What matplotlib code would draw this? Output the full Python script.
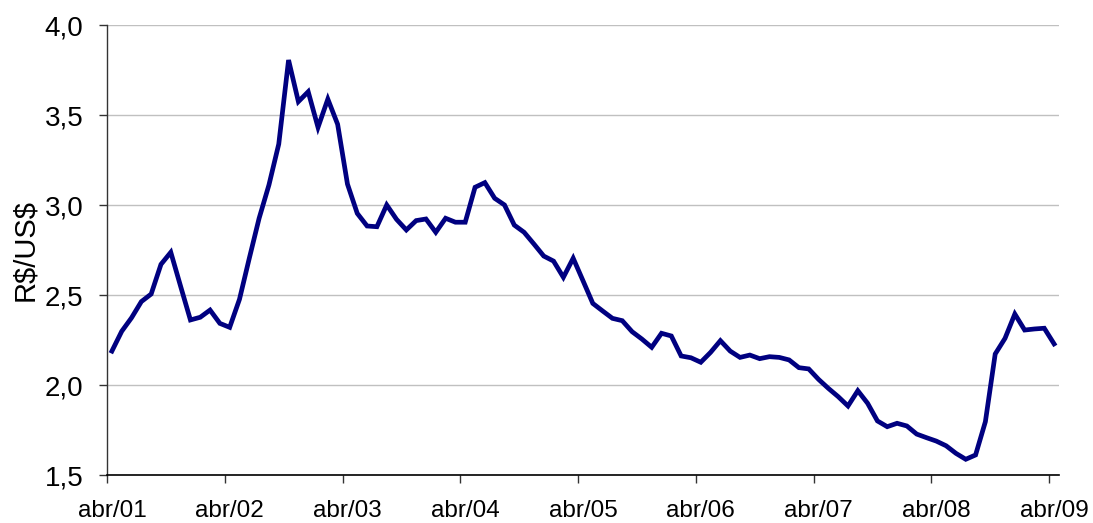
import matplotlib.pyplot as plt
from matplotlib.ticker import FuncFormatter

plt.rcParams['font.family'] = ['Liberation Sans', 'DejaVu Sans']

# monthly exchange rate, abr/01 .. abr/09
rate = [
    2.19, 2.30, 2.375, 2.465, 2.507, 2.672, 2.739, 2.55, 2.363, 2.378, 2.418, 2.344,
    2.322, 2.478, 2.706, 2.928, 3.113, 3.34, 3.807, 3.576, 3.631, 3.433, 3.59, 3.45,
    3.118, 2.955, 2.885, 2.881, 3.002, 2.922, 2.863, 2.915, 2.924, 2.85, 2.928, 2.906,
    2.906, 3.10, 3.126, 3.039, 3.002, 2.89, 2.85, 2.785, 2.718, 2.69, 2.60, 2.706,
    2.581, 2.455, 2.413, 2.372, 2.359, 2.298, 2.257, 2.211, 2.289, 2.274, 2.163, 2.153,
    2.128, 2.183, 2.248, 2.19, 2.155, 2.168, 2.148, 2.159, 2.155, 2.141, 2.098, 2.091,
    2.033, 1.983, 1.937, 1.885, 1.97, 1.90, 1.802, 1.77, 1.789, 1.774, 1.729, 1.709,
    1.69, 1.664, 1.622, 1.589, 1.613, 1.798, 2.174, 2.261, 2.396, 2.307, 2.313, 2.317,
    2.23,
]
tick_labels = ["abr/01", "abr/02", "abr/03", "abr/04", "abr/05",
               "abr/06", "abr/07", "abr/08", "abr/09"]

fig = plt.figure(figsize=(10.93, 5.23), dpi=100)
ax = fig.add_axes([107 / 1093, 1 - 475.3 / 523, (1059 - 107) / 1093, 450 / 523])

x = list(range(len(rate)))
ax.plot(x, rate, color='#000080', lw=3.4, solid_joinstyle='miter', zorder=3)

# axes styling (Excel-like category axis)
ax.set_xlim(-0.5, len(rate) - 0.5)
ax.set_ylim(1.5, 4.0)
ax.set_yticks([1.5, 2.0, 2.5, 3.0, 3.5, 4.0])
ax.yaxis.set_major_formatter(FuncFormatter(lambda v, p: f"{v:.1f}".replace('.', ',')))
ax.grid(axis='y', color='#c0c0c0', lw=1.0, zorder=0)

ax.set_xticks(list(range(0, len(rate), 12)))
ax.set_xticklabels(tick_labels)
ax.set_xticks([i - 0.5 for i in range(0, len(rate), 12)], minor=True)
ax.tick_params(axis='x', which='major', length=0, pad=18, labelsize=17.5)
ax.tick_params(axis='x', which='minor', length=6, width=1, direction='out', color='#333333')
ax.tick_params(axis='y', length=6, width=1, direction='out', pad=11, labelsize=20, color='#333333')

ax.set_ylabel(r"R\$/US\$", fontsize=21, labelpad=4)

ax.spines['top'].set_visible(False)
ax.spines['right'].set_visible(False)
ax.spines['left'].set_linewidth(1.0)
ax.spines['bottom'].set_linewidth(1.2)
ax.spines['left'].set_color('#333333')

fig.savefig("out.png", dpi=100)
